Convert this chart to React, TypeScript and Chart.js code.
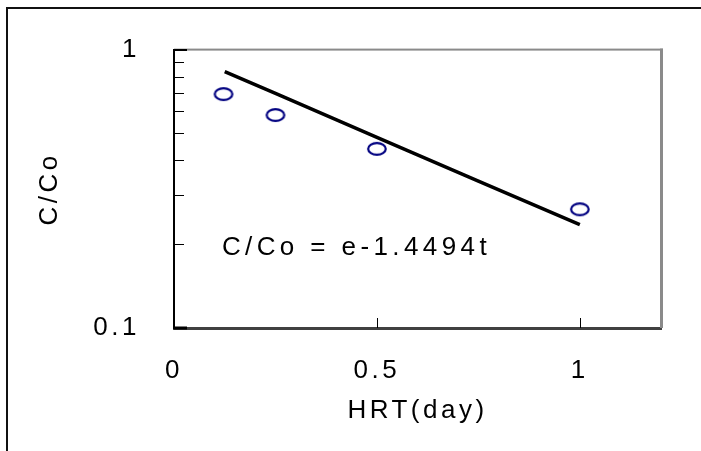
import React, { useEffect, useRef } from "react";
import { Chart, registerables } from "chart.js";

Chart.register(...registerables);

// ---- data ----
const hrtDays = [0.122, 0.25, 0.5, 1.0];
const measuredRatio = [0.692, 0.582, 0.44, 0.267];
const fitDays = [0.125, 0.25, 0.5, 0.75, 1.0];
const fitRatio = [0.834, 0.696, 0.484, 0.337, 0.235];
const xTickValues = [0, 0.5, 1];
const yTickValues = [0.1, 0.2, 0.3, 0.4, 0.5, 0.6, 0.7, 0.8, 0.9, 1];
const yLabelValues = [0.1, 1];
const equationText = "C/Co = e-1.4494t";
const equationAt = { x: 0.118, y: 0.194 };
const xTitle = "HRT(day)";
const yTitle = "C/Co";

const FONT = "'Liberation Sans', Arial, sans-serif";
const SIZE = 26;
const SPACING = "3.5px";
const EQ_SPACING = "4.4px";

function makeMarker(): HTMLCanvasElement {
  const c = document.createElement("canvas");
  c.width = 24;
  c.height = 18;
  const g = c.getContext("2d")!;
  g.strokeStyle = "#000080";
  g.lineWidth = 2.2;
  g.beginPath();
  g.ellipse(12, 9, 8.8, 5.8, 0, 0, Math.PI * 2);
  g.stroke();
  return c;
}

const decorPlugin = {
  id: "decor",
  beforeDraw(chart: any) {
    chart.ctx.letterSpacing = SPACING;
  },
  afterDraw(chart: any) {
    const ctx = chart.ctx as CanvasRenderingContext2D;
    const { left, right, top, bottom } = chart.chartArea;
    const xs = chart.scales.x;
    const ys = chart.scales.y;
    ctx.save();
    // outer frame
    ctx.fillStyle = "#111";
    ctx.fillRect(6, 7, 701, 2);
    ctx.fillRect(6, 7, 2, 451);
    // gray top & right of plot frame
    ctx.fillStyle = "#8a8a8a";
    ctx.fillRect(left, top - 1, right - left + 2, 2);
    ctx.fillRect(right - 1, top - 1, 3, bottom - top + 1);
    // y ticks
    ctx.strokeStyle = "#000";
    for (const v of yTickValues) {
      const p = Math.round(ys.getPixelForValue(v));
      const major = yLabelValues.includes(v);
      if (major) {
        ctx.fillStyle = "#000";
        const h = v === 0.1 ? 3 : 2;
        ctx.fillRect(left, v === 0.1 ? p - 1.5 : p - 1, 13, h);
      } else {
        ctx.lineWidth = 1;
        ctx.beginPath();
        ctx.moveTo(left, p + 0.5);
        ctx.lineTo(left + 10, p + 0.5);
        ctx.stroke();
      }
    }
    // x ticks
    for (const v of xTickValues) {
      if (v === 0) continue;
      const p = Math.round(xs.getPixelForValue(v));
      ctx.lineWidth = 1;
      ctx.beginPath();
      ctx.moveTo(p + 0.5, bottom);
      ctx.lineTo(p + 0.5, bottom - 10);
      ctx.stroke();
    }
    // equation
    ctx.letterSpacing = EQ_SPACING;
    ctx.font = `${SIZE}px ${FONT}`;
    ctx.fillStyle = "#000";
    ctx.textAlign = "left";
    ctx.textBaseline = "middle";
    ctx.fillText(equationText, xs.getPixelForValue(equationAt.x), ys.getPixelForValue(equationAt.y));
    ctx.restore();
  },
};

export default function App() {
  const ref = useRef<HTMLCanvasElement | null>(null);
  useEffect(() => {
    if (!ref.current) return;
    const marker = makeMarker();
    const chart = new Chart(ref.current, {
      type: "scatter",
      data: {
        datasets: [
          {
            label: "fit",
            data: fitDays.map((x, i) => ({ x, y: fitRatio[i] })),
            showLine: true,
            borderColor: "#000",
            borderWidth: 3.5,
            pointRadius: 0,
            order: 2,
          },
          {
            label: "measured",
            data: hrtDays.map((x, i) => ({ x, y: measuredRatio[i] })),
            pointStyle: marker as any,
            pointRadius: 9,
            order: 1,
          },
        ],
      },
      options: {
        animation: false,
        responsive: false,
        events: [],
        layout: { padding: { top: 47, right: 40, left: 0, bottom: 0 } },
        plugins: { legend: { display: false }, tooltip: { enabled: false } },
        scales: {
          x: {
            type: "linear",
            min: 0,
            max: 1.2,
            afterBuildTicks: (s: any) => {
              s.ticks = xTickValues.map((v) => ({ value: v }));
            },
            afterFit: (s: any) => {
              s.height = 123;
            },
            ticks: {
              font: { family: FONT, size: SIZE },
              color: "#000",
              padding: 27,
              maxRotation: 0,
              autoSkip: false,
              callback: (v: any) => String(v),
            },
            grid: { display: false, drawTicks: false },
            border: { display: true, color: "#404040", width: 3 },
            title: {
              display: true,
              text: xTitle,
              color: "#000",
              font: { family: FONT, size: SIZE },
              padding: { top: 0, bottom: 25 },
            },
          },
          y: {
            type: "logarithmic",
            min: 0.1,
            max: 1,
            afterBuildTicks: (s: any) => {
              s.ticks = yTickValues.map((v) => ({ value: v }));
            },
            afterFit: (s: any) => {
              s.width = 174;
            },
            ticks: {
              font: { family: FONT, size: SIZE },
              color: "#000",
              padding: 34,
              autoSkip: false,
              callback: (v: any) => (yLabelValues.includes(Number(v)) ? String(v) : ""),
            },
            grid: { display: false, drawTicks: false },
            border: { display: true, color: "#000", width: 2 },
            title: {
              display: true,
              text: yTitle,
              color: "#000",
              font: { family: FONT, size: SIZE },
              padding: { top: 34, bottom: 0 },
            },
          },
        },
      },
      plugins: [decorPlugin],
    } as any);
    return () => chart.destroy();
  }, []);
  return (
    <div style={{ position: "fixed", left: 0, top: 0, width: 701, height: 451, background: "#fff" }}>
      <canvas ref={ref} width={701} height={451} style={{ display: "block" }} />
    </div>
  );
}
